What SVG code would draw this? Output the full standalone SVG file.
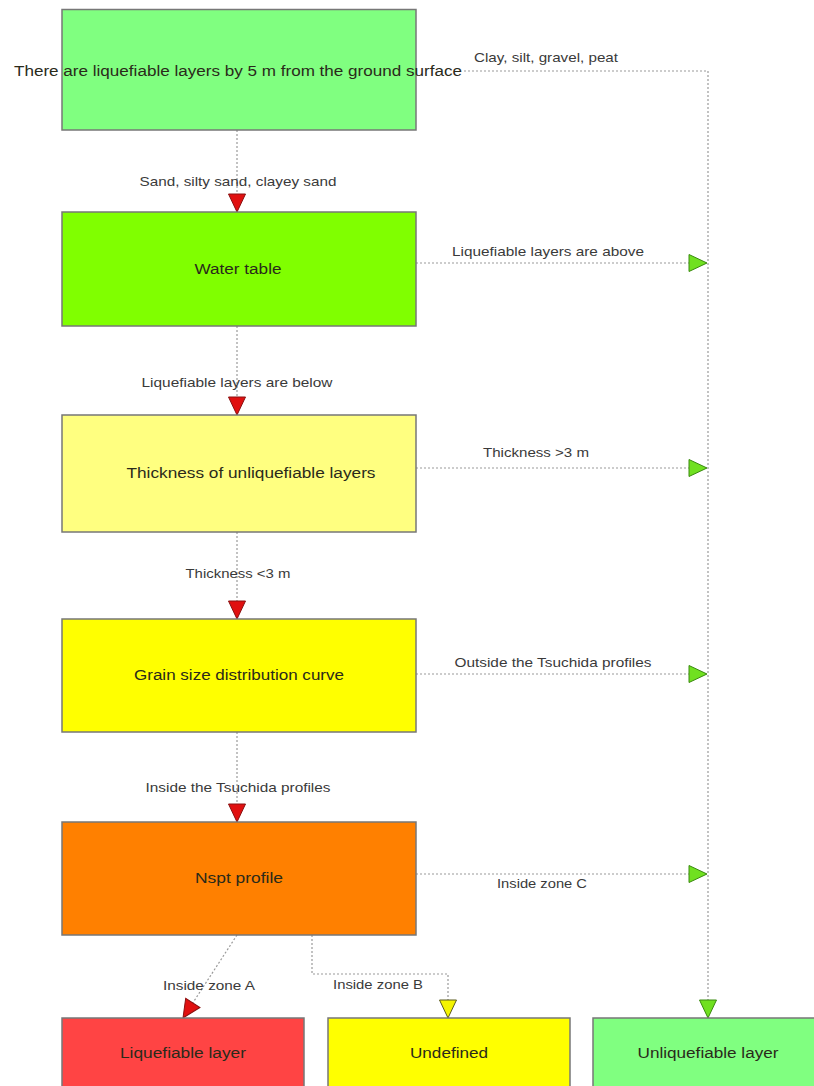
<svg xmlns="http://www.w3.org/2000/svg" width="814" height="1086" viewBox="0 0 814 1086">
<style>
.box{stroke:#777;stroke-width:1.5}
.bt{font-family:"Liberation Sans",Arial,sans-serif;font-size:14px;fill:#2a2a1a;text-anchor:middle}
.lb{font-family:"Liberation Sans",Arial,sans-serif;font-size:13.5px;fill:#3a3a3a;text-anchor:middle}
.c{fill:none;stroke:#9a9a9a;stroke-width:1.2;stroke-dasharray:2 2}
</style>
<defs>
<marker id="aR" markerUnits="userSpaceOnUse" markerWidth="20" markerHeight="20" refX="18" refY="8.5" orient="auto" overflow="visible">
<path d="M0,0 L18,8.5 L0,17 z" fill="#e01010" stroke="#8a1010" stroke-width="1"/>
</marker>
<marker id="aG" markerUnits="userSpaceOnUse" markerWidth="20" markerHeight="20" refX="18" refY="8.5" orient="auto" overflow="visible">
<path d="M0,0 L18,8.5 L0,17 z" fill="#70e020" stroke="#3a8a10" stroke-width="1"/>
</marker>
<marker id="aY" markerUnits="userSpaceOnUse" markerWidth="20" markerHeight="20" refX="18" refY="8.5" orient="auto" overflow="visible">
<path d="M0,0 L18,8.5 L0,17 z" fill="#f4f400" stroke="#5a5a20" stroke-width="1"/>
</marker>
</defs>
<rect width="814" height="1086" fill="#ffffff"/>

<g id="connectors">
<path class="c" d="M464,71 H708 V1018" marker-end="url(#aG)"/>
<path class="c" d="M237,130 V212" marker-end="url(#aR)"/>
<path class="c" d="M416,263 H707" marker-end="url(#aG)"/>
<path class="c" d="M237,326 V415" marker-end="url(#aR)"/>
<path class="c" d="M416,468 H707" marker-end="url(#aG)"/>
<path class="c" d="M237,532 V619" marker-end="url(#aR)"/>
<path class="c" d="M416,674 H707" marker-end="url(#aG)"/>
<path class="c" d="M237,732 V822" marker-end="url(#aR)"/>
<path class="c" d="M416,874 H707" marker-end="url(#aG)"/>
<path class="c" d="M237,935 L183,1018" marker-end="url(#aR)"/>
<path class="c" d="M312,935 V974 H448 V1018" marker-end="url(#aY)"/>
<text class="lb" x="546" y="62" textLength="144" lengthAdjust="spacingAndGlyphs">Clay, silt, gravel, peat</text>
<text class="lb" x="238" y="186" textLength="197" lengthAdjust="spacingAndGlyphs">Sand, silty sand, clayey sand</text>
<text class="lb" x="548" y="256" textLength="192" lengthAdjust="spacingAndGlyphs">Liquefiable layers are above</text>
<text class="lb" x="237" y="387" textLength="191" lengthAdjust="spacingAndGlyphs">Liquefiable layers are below</text>
<text class="lb" x="536" y="457" textLength="106" lengthAdjust="spacingAndGlyphs">Thickness &gt;3 m</text>
<text class="lb" x="238" y="578" textLength="105" lengthAdjust="spacingAndGlyphs">Thickness &lt;3 m</text>
<text class="lb" x="553" y="667" textLength="197" lengthAdjust="spacingAndGlyphs">Outside the Tsuchida profiles</text>
<text class="lb" x="238" y="792" textLength="185" lengthAdjust="spacingAndGlyphs">Inside the Tsuchida profiles</text>
<text class="lb" x="542" y="888" textLength="90" lengthAdjust="spacingAndGlyphs">Inside zone C</text>
<text class="lb" x="209" y="990" textLength="92" lengthAdjust="spacingAndGlyphs">Inside zone A</text>
<text class="lb" x="378" y="989" textLength="90" lengthAdjust="spacingAndGlyphs">Inside zone B</text>
</g>

<g id="n1">
<rect class="box" x="62" y="9.5" width="354" height="120.5" fill="#80ff80"/>
<text class="bt" x="238" y="76" textLength="448" lengthAdjust="spacingAndGlyphs">There are liquefiable layers by 5 m from the ground surface</text>
</g>
<g id="n2">
<rect class="box" x="62" y="212" width="354" height="114" fill="#80ff00"/>
<text class="bt" x="238" y="274" textLength="87" lengthAdjust="spacingAndGlyphs">Water table</text>
</g>
<g id="n3">
<rect class="box" x="62" y="415" width="354" height="117" fill="#ffff80"/>
<text class="bt" x="251" y="478" textLength="249" lengthAdjust="spacingAndGlyphs">Thickness of unliquefiable layers</text>
</g>
<g id="n4">
<rect class="box" x="62" y="619" width="354" height="113" fill="#ffff00"/>
<text class="bt" x="239" y="680" textLength="210" lengthAdjust="spacingAndGlyphs">Grain size distribution curve</text>
</g>
<g id="n5">
<rect class="box" x="62" y="822" width="354" height="113" fill="#ff8000"/>
<text class="bt" x="239" y="883" textLength="88" lengthAdjust="spacingAndGlyphs">Nspt profile</text>
</g>
<g id="n6">
<rect class="box" x="62" y="1018" width="242" height="80" fill="#ff4444"/>
<text class="bt" x="183" y="1058" textLength="126" lengthAdjust="spacingAndGlyphs">Liquefiable layer</text>
</g>
<g id="n7">
<rect class="box" x="328" y="1018" width="242" height="80" fill="#ffff00"/>
<text class="bt" x="449" y="1058" textLength="78" lengthAdjust="spacingAndGlyphs">Undefined</text>
</g>
<g id="n8">
<rect class="box" x="593" y="1018" width="242" height="80" fill="#80ff80"/>
<text class="bt" x="708" y="1058" textLength="141" lengthAdjust="spacingAndGlyphs">Unliquefiable layer</text>
</g>
</svg>
